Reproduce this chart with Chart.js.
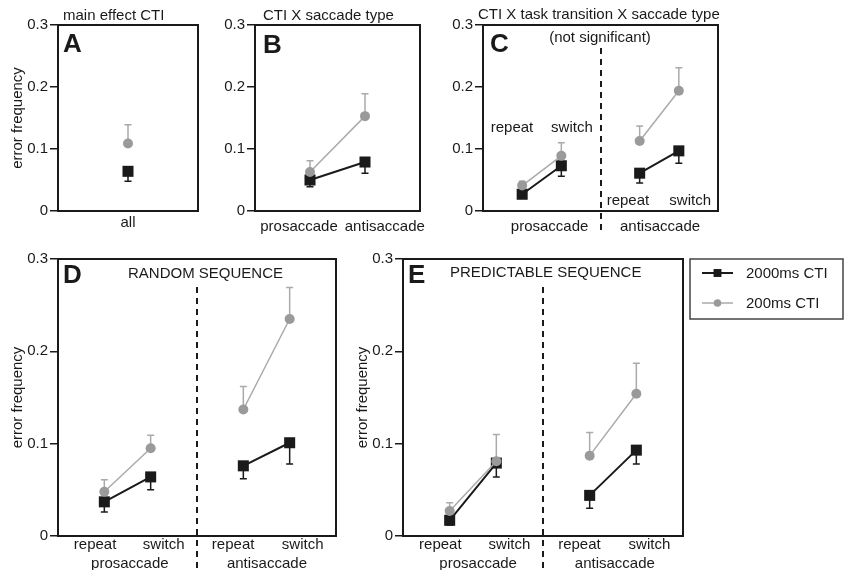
<!DOCTYPE html>
<html>
<head>
<meta charset="utf-8">
<script src="https://cdn.jsdelivr.net/npm/chart.js@4.4.1/dist/chart.umd.min.js"></script>
<style>
  html, body { margin: 0; padding: 0; background: #fff; }
  #wrap { position: relative; width: 847px; height: 570px; overflow: hidden; }
  #wrap canvas { position: absolute; left: 0; top: 0; }
</style>
</head>
<body>
<div id="wrap">
  <canvas id="cA" width="847" height="570"></canvas>
  <canvas id="cB" width="847" height="570"></canvas>
  <canvas id="cC" width="847" height="570"></canvas>
  <canvas id="cD" width="847" height="570"></canvas>
  <canvas id="cE" width="847" height="570"></canvas>
</div>
<script>
// values (error = length of the error bar)
const seriesNames = ["2000ms CTI", "200ms CTI"];
const transitions = ["repeat", "switch"];
const saccadeTypes = ["prosaccade", "antisaccade"];
const yTicks = [0, 0.1, 0.2, 0.3];

// A: main effect CTI
const mainLong = [0.064];
const mainLongErr = [0.016];
const mainShort = [0.109];
const mainShortErr = [0.030];

// B: CTI x saccade type
const typeLong = [0.050, 0.079];
const typeLongErr = [0.011, 0.018];
const typeShort = [0.063, 0.153];
const typeShortErr = [0.018, 0.036];

// C: CTI x task transition x saccade type
const transLong = [0.027, 0.073, 0.061, 0.097];
const transLongErr = [0.005, 0.017, 0.016, 0.020];
const transShort = [0.041, 0.089, 0.113, 0.194];
const transShortErr = [0.007, 0.021, 0.024, 0.037];

// D: random sequence
const randLong = [0.037, 0.064, 0.076, 0.101];
const randLongErr = [0.011, 0.014, 0.014, 0.023];
const randShort = [0.048, 0.095, 0.137, 0.235];
const randShortErr = [0.013, 0.014, 0.025, 0.034];

// E: predictable sequence
const predLong = [0.017, 0.079, 0.044, 0.093];
const predLongErr = [0.005, 0.015, 0.014, 0.015];
const predShort = [0.027, 0.081, 0.087, 0.154];
const predShortErr = [0.009, 0.029, 0.025, 0.033];

const FONT = '"Liberation Sans", Arial, Helvetica, sans-serif';
const INK = "#1a1a1a";
const GREY = "#9a9a9a";
const GREY_LINE = "#aaaaaa";

// slot positions on the x axis (gap slot breaks the line between saccade types)
const slots1 = [1];
const slots2 = [1, 2];
const slots4 = [1, 2, 4, 5];
const subLabelX = [0.8, 2.28, 3.78, 5.28];

function toPoints(slots, vals, errs) {
  const pts = [];
  slots.forEach((s, i) => {
    if (i > 0 && s - slots[i - 1] > 1) pts.push({ x: s - 1, y: null, err: null });
    pts.push({ x: s, y: vals[i], err: errs[i] });
  });
  return pts;
}

function seriesSets(slots, longV, longE, shortV, shortE) {
  return [
    {
      label: seriesNames[1], data: toPoints(slots, shortV, shortE), errDir: 1, errColor: GREY_LINE,
      borderColor: GREY_LINE, borderWidth: 1.5, pointStyle: "circle", pointRadius: 5, legendRadius: 3.8,
      pointBorderWidth: 0, pointBackgroundColor: GREY, pointBorderColor: GREY
    },
    {
      label: seriesNames[0], data: toPoints(slots, longV, longE), errDir: -1, errColor: INK,
      borderColor: INK, borderWidth: 2, pointStyle: "rect", pointRadius: 7.8, legendRadius: 5.6,
      pointBorderWidth: 0, pointBackgroundColor: INK, pointBorderColor: INK
    }
  ];
}

function fourLabels(groupX, subY, groupY) {
  const out = [];
  subLabelX.forEach((x, i) => out.push([transitions[i % 2], x, subY]));
  saccadeTypes.forEach((t, i) => out.push([t, groupX[i], groupY]));
  return out;
}

const panels = [
  {
    id: "cA", box: [58, 25, 198, 211], xMax: 2, yTitle: true,
    sets: seriesSets(slots1, mainLong, mainLongErr, mainShort, mainShortErr),
    letter: ["A", 63, 52],
    texts: [["main effect CTI", 63, 20, "left"]],
    labels: [["all", 1, 227]]
  },
  {
    id: "cB", box: [255, 25, 420, 211], xMax: 3, yTitle: false,
    sets: seriesSets(slots2, typeLong, typeLongErr, typeShort, typeShortErr),
    letter: ["B", 263, 53],
    texts: [["CTI X saccade type", 263, 20, "left"]],
    labels: [[saccadeTypes[0], 0.8, 231], [saccadeTypes[1], 2.36, 231]]
  },
  {
    id: "cC", box: [483, 25, 718, 211], xMax: 6, yTitle: false,
    sets: seriesSets(slots4, transLong, transLongErr, transShort, transShortErr),
    letter: ["C", 490, 52],
    texts: [["CTI X task transition X saccade type", 478, 19, "left"],
            ["(not significant)", 600, 42, "center"]],
    labels: [[transitions[0], 0.74, 132], [transitions[1], 2.27, 132],
             [transitions[0], 3.7, 205], [transitions[1], 5.29, 205],
             [saccadeTypes[0], 1.7, 231], [saccadeTypes[1], 4.52, 231]],
    dash: [3, 48, 234]
  },
  {
    id: "cD", box: [58, 259, 336, 536], xMax: 6, yTitle: true,
    sets: seriesSets(slots4, randLong, randLongErr, randShort, randShortErr),
    letter: ["D", 63, 283],
    texts: [["RANDOM SEQUENCE", 128, 278, "left"]],
    labels: fourLabels([1.55, 4.51], 549, 568),
    dash: [3, 287, 570]
  },
  {
    id: "cE", box: [403, 259, 683, 536], xMax: 6, yTitle: true,
    sets: seriesSets(slots4, predLong, predLongErr, predShort, predShortErr),
    letter: ["E", 408, 283],
    texts: [["PREDICTABLE SEQUENCE", 450, 277, "left"]],
    labels: fourLabels([1.61, 4.54], 549, 568),
    dash: [3, 287, 570],
    legend: { box: [690, 259, 843, 319], rows: [273, 303], lineX: [702, 733], textX: 746 }
  }
];

function fontStr(size, bold) {
  return (bold ? "bold " : "") + size + "px " + FONT;
}

const decor = {
  id: "decor",
  beforeDatasetsDraw(chart) {
    const { ctx, scales: { x, y } } = chart;
    chart.data.datasets.forEach((ds) => {
      ctx.save();
      ctx.strokeStyle = ds.errColor;
      ctx.lineWidth = 1.5;
      ds.data.forEach((p) => {
        if (p.y === null || !p.err) return;
        const px = x.getPixelForValue(p.x);
        const y0 = y.getPixelForValue(p.y);
        const y1 = y.getPixelForValue(p.y + ds.errDir * p.err);
        ctx.beginPath();
        ctx.moveTo(px, y0);
        ctx.lineTo(px, y1);
        ctx.moveTo(px - 3.5, y1);
        ctx.lineTo(px + 3.5, y1);
        ctx.stroke();
      });
      ctx.restore();
    });
  },
  afterDraw(chart) {
    const cfg = chart.$panel;
    const { ctx, chartArea: a, scales: { x } } = chart;
    ctx.save();

    // frame
    ctx.strokeStyle = INK;
    ctx.lineWidth = 2;
    ctx.strokeRect(a.left, a.top, a.right - a.left, a.bottom - a.top);

    // dashed divider
    if (cfg.dash) {
      const dx = Math.round(x.getPixelForValue(cfg.dash[0]));
      ctx.setLineDash([6, 5]);
      ctx.lineWidth = 2;
      ctx.beginPath();
      ctx.moveTo(dx, cfg.dash[1]);
      ctx.lineTo(dx, cfg.dash[2]);
      ctx.stroke();
      ctx.setLineDash([]);
    }

    ctx.fillStyle = INK;
    ctx.textBaseline = "alphabetic";

    // panel letter
    ctx.font = fontStr(26, true);
    ctx.textAlign = "left";
    ctx.fillText(cfg.letter[0], cfg.letter[1], cfg.letter[2]);

    // titles
    ctx.font = fontStr(15);
    cfg.texts.forEach(([t, tx, ty, al]) => {
      ctx.textAlign = al;
      ctx.fillText(t, tx, ty);
    });

    // category labels
    ctx.textAlign = "center";
    cfg.labels.forEach(([t, xv, ty]) => {
      ctx.fillText(t, x.getPixelForValue(xv), ty);
    });

    // legend
    if (cfg.legend) {
      const L = cfg.legend;
      ctx.lineWidth = 1.5;
      ctx.strokeStyle = "#444";
      ctx.strokeRect(L.box[0], L.box[1], L.box[2] - L.box[0], L.box[3] - L.box[1]);
      seriesNames.forEach((name, i) => {
        const ds = chart.data.datasets.find((d) => d.label === name);
        const ly = L.rows[i];
        ctx.strokeStyle = ds.borderColor;
        ctx.lineWidth = ds.borderWidth;
        ctx.beginPath();
        ctx.moveTo(L.lineX[0], ly);
        ctx.lineTo(L.lineX[1], ly);
        ctx.stroke();
        ctx.fillStyle = ds.pointBackgroundColor;
        Chart.helpers.drawPoint(ctx, { pointStyle: ds.pointStyle, radius: ds.legendRadius, borderWidth: 0, rotation: 0 },
          (L.lineX[0] + L.lineX[1]) / 2, ly);
        ctx.fillStyle = INK;
        ctx.textAlign = "left";
        ctx.font = fontStr(15);
        ctx.fillText(name, L.textX, ly + 5);
      });
    }
    ctx.restore();
  }
};

panels.forEach((p) => {
  const axisW = p.yTitle ? 58 : 40;
  new Chart(document.getElementById(p.id), {
    type: "line",
    data: { datasets: p.sets },
    options: {
      responsive: false,
      animation: false,
      events: [],
      layout: {
        padding: { left: p.box[0] - axisW, top: p.box[1], right: 847 - p.box[2], bottom: 570 - p.box[3] }
      },
      scales: {
        x: { type: "linear", min: 0, max: p.xMax, display: false },
        y: {
          min: 0,
          max: 0.3,
          afterBuildTicks: (s) => { s.ticks = yTicks.map((v) => ({ value: v })); },
          afterFit: (s) => { s.width = axisW; },
          border: { display: false },
          grid: { drawOnChartArea: false, drawTicks: true, tickLength: 8, color: INK, lineWidth: 1.5 },
          ticks: {
            color: INK,
            padding: 2,
            font: { family: FONT, size: 15 },
            callback: (v) => (v === 0 ? "0" : v.toFixed(1))
          },
          title: {
            display: p.yTitle,
            text: "error frequency",
            color: INK,
            font: { family: FONT, size: 15 },
            padding: { top: 9, bottom: 0 }
          }
        }
      },
      plugins: { legend: { display: false }, tooltip: { enabled: false } }
    },
    plugins: [{
      id: "panelRef",
      beforeInit(c) { c.$panel = p; }
    }, decor]
  });
});
</script>
</body>
</html>
